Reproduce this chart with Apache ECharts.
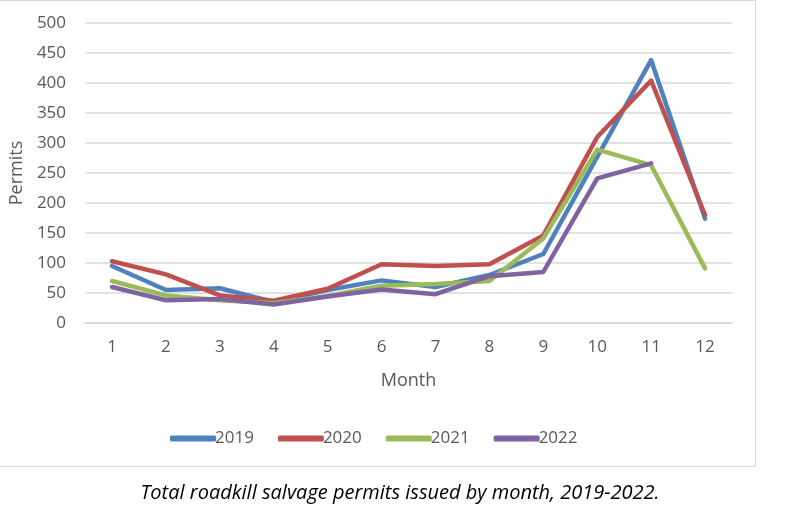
<!DOCTYPE html>
<html><head><meta charset="utf-8">
<script src="https://cdn.jsdelivr.net/npm/echarts@6/dist/echarts.min.js"></script>
<style>html,body{margin:0;padding:0;background:#fff}#c{width:800px;height:520px}</style>
</head><body><div id="c"></div>
<script>
const months = ['1','2','3','4','5','6','7','8','9','10','11','12'];
const yTicks = [0,50,100,150,200,250,300,350,400,450,500];
const s2019 = [95,55,58,35,55,71,60,80,115,277,438,174];
const s2020 = [103,81,46,37,57,98,95,98,146,310,404,180];
const s2021 = [70,46,38,33,45,62,65,70,141,289,263,91];
const s2022 = [60,38,40,31,44,56,48,78,85,241,266,null];
const names = ['2019','2020','2021','2022'];
const colors = ['#4F81BD','#C0504D','#9BBB59','#8064A2'];
const allData = [s2019,s2020,s2021,s2022];

const font = 'Open Sans, Noto Sans, sans-serif';
const chart = echarts.init(document.getElementById('c'), null, {renderer:'canvas'});
chart.setOption({
  animation:false,
  color: colors,
  graphic:[
    {type:'rect', shape:{x:-2,y:0.5,width:757.5,height:466}, style:{fill:'none',stroke:'#d9d9d9',lineWidth:1}, silent:true},
    {type:'text', left:'center', top:483, style:{text:'Total roadkill salvage permits issued by month, 2019-2022.', font:'italic 20px '+font, fill:'#000'}}
  ],
  grid:{left:82,right:68,top:23,bottom:197},
  legend:{
    data:names, bottom:68, left:165, itemWidth:46, itemHeight:6, itemGap:24,
    icon:'roundRect',
    textStyle:{color:'#595959', fontSize:17, fontFamily:font, padding:[0,0,0,-6]}
  },
  xAxis:{
    type:'category', data:months, boundaryGap:true,
    name:'Month', nameLocation:'middle', nameGap:49,
    nameTextStyle:{color:'#595959', fontSize:18, fontFamily:font},
    axisLine:{show:true, lineStyle:{color:'#d9d9d9', width:1.5}},
    axisTick:{show:false},
    axisLabel:{color:'#595959', fontSize:17, fontFamily:font, margin:16}
  },
  yAxis:{
    type:'value', min:0, max:500, interval:50,
    name:'Permits', nameLocation:'middle', nameGap:58,
    nameTextStyle:{color:'#595959', fontSize:18, fontFamily:font},
    axisLine:{show:false}, axisTick:{show:false},
    splitLine:{lineStyle:{color:'#d9d9d9', width:1.5}},
    axisLabel:{color:'#595959', fontSize:17, fontFamily:font, margin:19,
      formatter:v=>yTicks.includes(v)?String(v):''}
  },
  series: names.map((n,i)=>({
    name:n, type:'line', data:allData[i], showSymbol:false, symbol:'none',
    lineStyle:{width:4.5, color:colors[i], cap:'round', join:'round'},
    itemStyle:{color:colors[i]}, connectNulls:false
  }))
});
</script></body></html>
